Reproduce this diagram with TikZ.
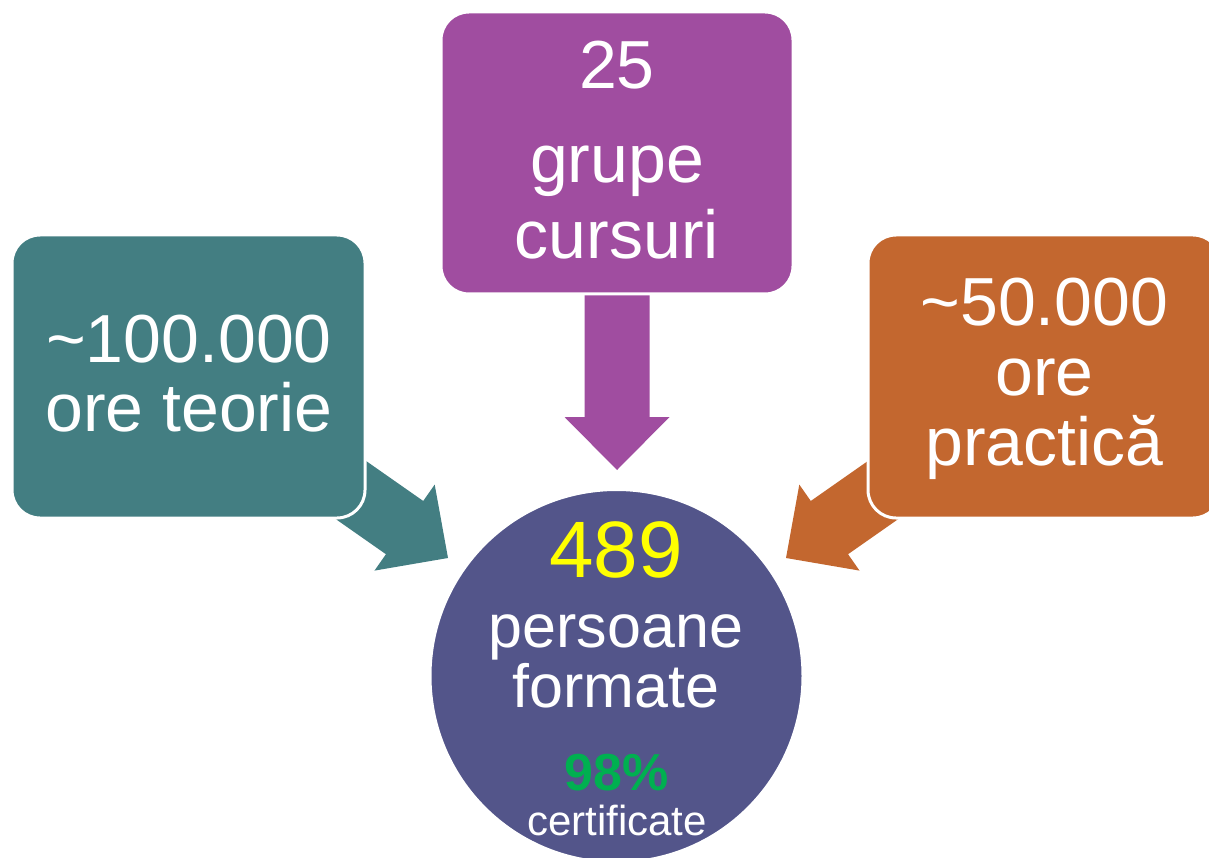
\documentclass[tikz,border=0pt]{standalone}
\usepackage{fontspec}
\setmainfont{Liberation Sans}
\definecolor{tealc}{HTML}{437E82}
\definecolor{purplec}{HTML}{A04DA0}
\definecolor{orangec}{HTML}{C3672F}
\definecolor{circc}{HTML}{53558A}
\definecolor{yel}{HTML}{FFFF00}
\definecolor{grn}{HTML}{00B050}
\tikzset{
  boxshape/.style={fill=#1, draw=white, line width=3pt, rounded corners=28pt},
  arrowshape/.style={fill=#1, draw=none},
  boxtxt/.style={text=white, inner sep=0pt, anchor=base, font=\fontsize{68}{70}\selectfont},
}
\begin{document}
\begin{tikzpicture}[x=1pt,y=-1pt]
\useasboundingbox (0,0) rectangle (1209,858);
% block arrows (behind boxes)
\fill[arrowshape=purplec] (584.5,280) -- (584.5,417) -- (564.5,417) -- (617,470) -- (669.5,417) -- (649.5,417) -- (649.5,280) -- cycle;
\fill[arrowshape=tealc] (265.52,469.90) -- (385.94,554.22) -- (374.47,570.61) -- (448,558) -- (434.69,484.59) -- (423.22,500.98) -- (302.80,416.66) -- cycle;
\fill[arrowshape=orangec] (968.48,469.90) -- (848.06,554.22) -- (859.53,570.61) -- (786,558) -- (799.31,484.59) -- (810.78,500.98) -- (931.20,416.66) -- cycle;
% boxes
\draw[boxshape=tealc] (12,235) rectangle (365,518);
\draw[boxshape=purplec] (441,12) rectangle (793,294);
\draw[boxshape=orangec] (868,235) rectangle (1221,518);
\draw[fill=circc, draw=white, line width=2pt] (616.5,676) circle (186);
% texts
\node[boxtxt] (t1) at (189,362) {{\char"7E}100.000};
\node[boxtxt] (t2) at (189,431) {ore teorie};
\node[boxtxt] (p1) at (617,89) {25};
\node[boxtxt] (p2) at (617,183) {grupe};
\node[boxtxt] (p3) at (617,259) {cursuri};
\node[boxtxt] (o1) at (1044.5,325) {{\char"7E}50.000};
\node[boxtxt] (o2) at (1044.5,395) {ore};
\node[boxtxt] (o3) at (1044.5,465) {practică};
\node[text=yel, inner sep=0pt, anchor=base, font=\fontsize{80}{80}\selectfont] (c1) at (616,577) {489};
\node[text=white, inner sep=0pt, anchor=base, font=\fontsize{61}{61}\selectfont] (c2) at (616,647) {persoane};
\node[text=white, inner sep=0pt, anchor=base, font=\fontsize{61}{61}\selectfont] (c3) at (616,707) {formate};
\node[text=grn, inner sep=0pt, anchor=base, font=\fontsize{52}{52}\selectfont\bfseries] (c4) at (617,790) {98\%};
\node[text=white, inner sep=0pt, anchor=base, font=\fontsize{42}{42}\selectfont] (c5) at (617,835) {certificate};
\end{tikzpicture}
\end{document}
